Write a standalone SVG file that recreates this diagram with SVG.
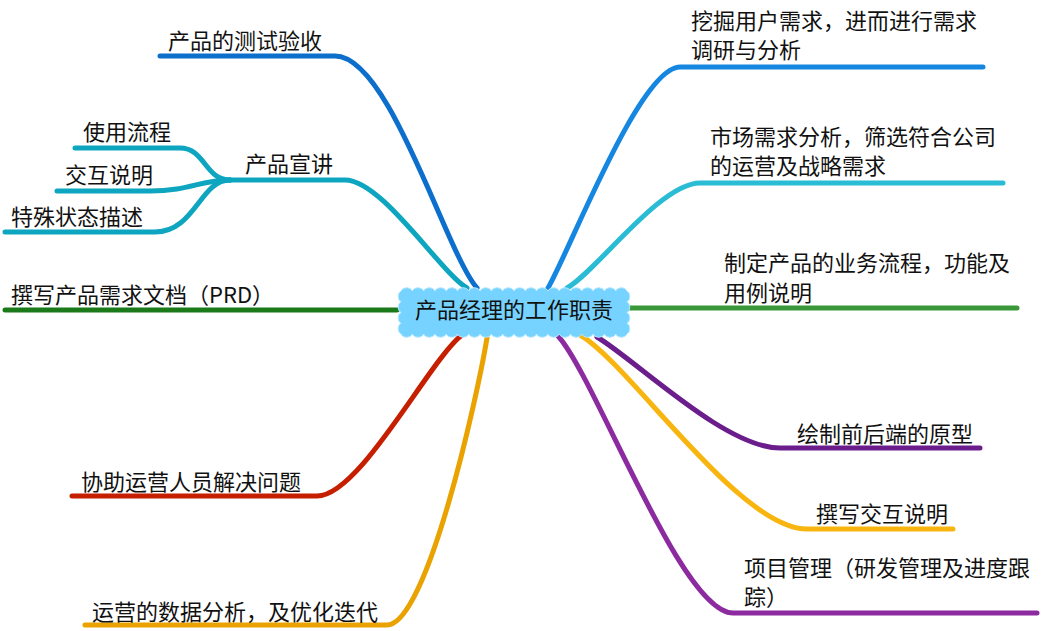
<svg xmlns="http://www.w3.org/2000/svg" width="1041" height="631" viewBox="0 0 1041 631">
<style>
.c{fill:none;stroke-width:5;stroke-linecap:round;stroke-linejoin:round}
text{font-family:"Noto Sans CJK SC","Noto Sans",sans-serif;font-size:22px;fill:#111}
</style>
<rect width="1041" height="631" fill="#fff"/>
<g id="connectors">
<path class="c" stroke="#0B6FCB" d="M477 288 C446 253 390 56 335 56 H160"/>
<path class="c" stroke="#0DA5BF" d="M467 288 C440 272 382 180 345 180 H230"/>
<path class="c" stroke="#0DA5BF" d="M230 180 C205 180 205 148 180 148 H75"/>
<path class="c" stroke="#0DA5BF" d="M230 180 C200 180 190 191 150 191 H57"/>
<path class="c" stroke="#0DA5BF" d="M230 180 C200 180 195 232 155 232 H5"/>
<path class="c" stroke="#1A7A1A" d="M397 310 H5"/>
<path class="c" stroke="#C61F00" d="M462 335 C430 359 360 496 317 496 H72"/>
<path class="c" stroke="#E9A200" d="M487 338 C477 398 427 625 387 625 H85"/>
<path class="c" stroke="#1687E0" d="M548 288 C570 250 640 67 680 67 H983"/>
<path class="c" stroke="#2ABCD4" d="M567 288 C596 272 660 183 700 183 H1003"/>
<path class="c" stroke="#3A973A" d="M628 308 H1017"/>
<path class="c" stroke="#6B1E8B" d="M597 337 C637 361 725 448 780 448 H980"/>
<path class="c" stroke="#F9B50F" d="M580 335 C630 364 739 529 807 529 H953"/>
<path class="c" stroke="#8C2BA0" d="M558 336 C596 378 681 613 733 613 H1037"/>
</g>
<g id="center">
<path fill="#76D3FF" stroke="#B5E8FF" stroke-width="1" d="M401 291 a6 5 0 0 1 11.3 0 a6 5 0 0 1 11.3 0 a6 5 0 0 1 11.3 0 a6 5 0 0 1 11.3 0 a6 5 0 0 1 11.3 0 a6 5 0 0 1 11.3 0 a6 5 0 0 1 11.3 0 a6 5 0 0 1 11.3 0 a6 5 0 0 1 11.3 0 a6 5 0 0 1 11.3 0 a6 5 0 0 1 11.3 0 a6 5 0 0 1 11.3 0 a6 5 0 0 1 11.3 0 a6 5 0 0 1 11.3 0 a6 5 0 0 1 11.3 0 a6 5 0 0 1 11.3 0 a6 5 0 0 1 11.3 0 a6 5 0 0 1 11.3 0 a6 5 0 0 1 11.3 0 a6 5 0 0 1 11.3 0 a5 6 0 0 1 0 10.75 a5 6 0 0 1 0 10.75 a5 6 0 0 1 0 10.75 a5 6 0 0 1 0 10.75 a6 5 0 0 1 -11.3 0 a6 5 0 0 1 -11.3 0 a6 5 0 0 1 -11.3 0 a6 5 0 0 1 -11.3 0 a6 5 0 0 1 -11.3 0 a6 5 0 0 1 -11.3 0 a6 5 0 0 1 -11.3 0 a6 5 0 0 1 -11.3 0 a6 5 0 0 1 -11.3 0 a6 5 0 0 1 -11.3 0 a6 5 0 0 1 -11.3 0 a6 5 0 0 1 -11.3 0 a6 5 0 0 1 -11.3 0 a6 5 0 0 1 -11.3 0 a6 5 0 0 1 -11.3 0 a6 5 0 0 1 -11.3 0 a6 5 0 0 1 -11.3 0 a6 5 0 0 1 -11.3 0 a6 5 0 0 1 -11.3 0 a6 5 0 0 1 -11.3 0 a5 6 0 0 1 0 -10.75 a5 6 0 0 1 0 -10.75 a5 6 0 0 1 0 -10.75 a5 6 0 0 1 0 -10.75 Z"/>
<text x="514" y="318" text-anchor="middle">产品经理的工作职责</text>
</g>
<g id="n-test"><text x="168" y="49">产品的测试验收</text></g>
<g id="n-xuanjiang"><text x="245" y="172">产品宣讲</text></g>
<g id="n-flow"><text x="83" y="140">使用流程</text></g>
<g id="n-interact"><text x="65" y="183">交互说明</text></g>
<g id="n-special"><text x="11" y="225">特殊状态描述</text></g>
<g id="n-prd"><text x="11" y="303">撰写产品需求文档（PRD）</text></g>
<g id="n-ops"><text x="81" y="490">协助运营人员解决问题</text></g>
<g id="n-data"><text x="92" y="620">运营的数据分析，及优化迭代</text></g>
<g id="n-dig"><text x="691" y="29">挖掘用户需求，进而进行需求</text><text x="691" y="58">调研与分析</text></g>
<g id="n-market"><text x="710" y="145">市场需求分析，筛选符合公司</text><text x="710" y="174">的运营及战略需求</text></g>
<g id="n-process"><text x="724" y="271">制定产品的业务流程，功能及</text><text x="724" y="301">用例说明</text></g>
<g id="n-proto"><text x="797" y="442">绘制前后端的原型</text></g>
<g id="n-ixdoc"><text x="816" y="522">撰写交互说明</text></g>
<g id="n-pm"><text x="744" y="576">项目管理（研发管理及进度跟</text><text x="744" y="605">踪）</text></g>
</svg>
